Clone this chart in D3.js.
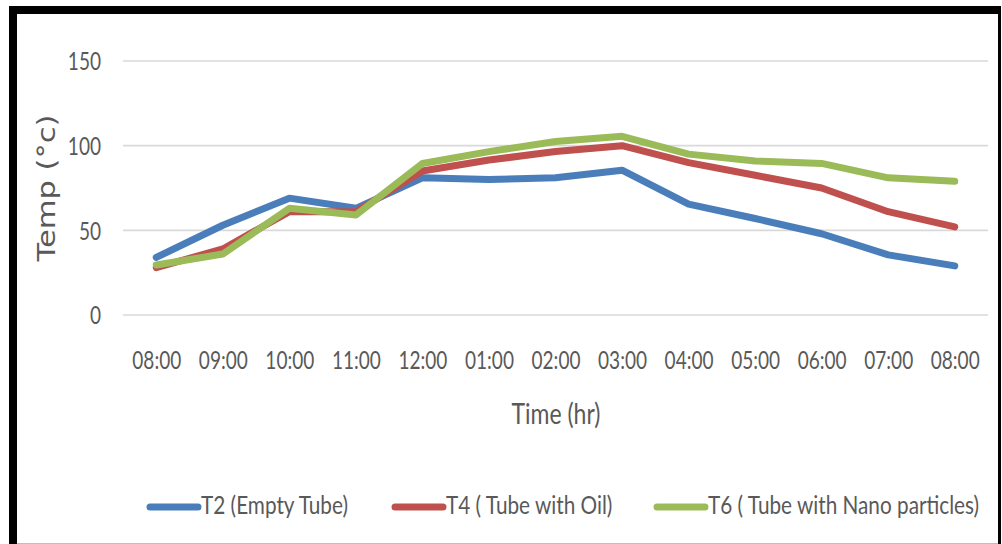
<!DOCTYPE html>
<html>
<head>
<meta charset="utf-8">
<script src="https://cdn.jsdelivr.net/npm/d3@7"></script>
<style>
  html, body { margin: 0; padding: 0; background: #ffffff; }
  svg { display: block; }
</style>
</head>
<body>
<svg id="chart" width="1002" height="544"></svg>
<script>
// Hourly readings, 08:00 in the morning through 08:00 in the evening
const hours = ["08:00", "09:00", "10:00", "11:00", "12:00", "01:00", "02:00",
               "03:00", "04:00", "05:00", "06:00", "07:00", "08:00"];
const t2Empty = [34, 53, 69, 63, 81, 80, 81, 85.5, 65.5, 57, 48, 35.5, 29];
const t4Oil   = [28, 39, 61, 61, 85, 91.5, 96.5, 100, 90, 82.5, 75, 61, 52];
const t6Nano  = [29.5, 36, 63, 59, 89.5, 96.5, 102.5, 105.5, 95, 91, 89.5, 81, 79];
const yTicks  = [0, 50, 100, 150];

const seriesNames  = ["T2 (Empty Tube)", "T4 ( Tube with Oil)", "T6 ( Tube with Nano particles)"];
const seriesColors = ["#4a7ebb", "#c0504d", "#9bbb59"];
const seriesValues = [t2Empty, t4Oil, t6Nano];

const svg = d3.select("#chart");
const textColor = "#595959";
const labelFont = "Lato, 'Open Sans', sans-serif";

// narrow the label font horizontally so that a sample string has the given width
function narrowFactor(sample, size, width) {
  const probe = svg.append("text")
    .style("font-family", labelFont).style("font-size", size + "px").text(sample);
  const w = probe.node().getComputedTextLength();
  probe.remove();
  return width / w;
}
const tickSize = 25, legendSize = 25, titleSize = 28;
const tickK   = narrowFactor("08:00", tickSize, 49);
const legendK = narrowFactor("T2 (Empty Tube)", legendSize, 147);
const titleK  = narrowFactor("Time (hr)", titleSize, 89);

// frame around the chart
svg.append("rect").attr("x", 9).attr("y", 6).attr("width", 992).attr("height", 8).attr("fill", "#000");
svg.append("rect").attr("x", 9).attr("y", 6).attr("width", 8).attr("height", 538).attr("fill", "#000");
svg.append("rect").attr("x", 998).attr("y", 6).attr("width", 3).attr("height", 538).attr("fill", "#000");
svg.append("line").attr("x1", 17).attr("x2", 998).attr("y1", 543.5).attr("y2", 543.5)
   .attr("stroke", "#bfbfbf").attr("stroke-width", 1);

const plot = { left: 123, right: 988, top: 61, bottom: 315 };

const x = d3.scalePoint().domain(d3.range(hours.length)).range([plot.left, plot.right]).padding(0.5);
const y = d3.scaleLinear().domain([0, 150]).range([plot.bottom, plot.top]);

// horizontal gridlines
svg.append("g").selectAll("line").data(yTicks).join("line")
  .attr("x1", plot.left).attr("x2", plot.right)
  .attr("y1", d => y(d)).attr("y2", d => y(d))
  .attr("stroke", "#d9d9d9").attr("stroke-width", 1.6);

// y axis labels
const yAxis = svg.append("g")
  .attr("transform", `translate(${plot.left},0)`)
  .call(d3.axisLeft(y).tickValues(yTicks).tickSize(0).tickPadding(0));
yAxis.select(".domain").remove();
yAxis.selectAll("text")
  .attr("x", 0).attr("dy", "0.35em")
  .attr("transform", `translate(-22,0) scale(${tickK},1)`)
  .attr("fill", textColor)
  .style("font-family", labelFont).style("font-size", tickSize + "px");

// x axis labels
const xAxis = svg.append("g")
  .attr("transform", `translate(0,${plot.bottom})`)
  .call(d3.axisBottom(x).tickFormat(i => hours[i]).tickSize(0).tickPadding(0));
xAxis.select(".domain").remove();
xAxis.selectAll("text")
  .attr("y", 0).attr("dy", "0.35em")
  .attr("transform", `translate(0,45) scale(${tickK},1)`)
  .attr("fill", textColor)
  .style("font-family", labelFont).style("font-size", tickSize + "px");

// axis titles
svg.append("text")
  .attr("transform", `translate(556,414) scale(${titleK},1)`)
  .attr("text-anchor", "middle").attr("dy", "0.35em")
  .attr("fill", textColor)
  .style("font-family", labelFont).style("font-size", titleSize + "px")
  .text("Time (hr)");

svg.append("text")
  .attr("transform", "translate(47,188) rotate(-90)")
  .attr("text-anchor", "middle").attr("dy", "0.35em")
  .attr("fill", textColor)
  .attr("textLength", 147).attr("lengthAdjust", "spacingAndGlyphs")
  .style("font-family", "'DejaVu Sans', sans-serif").style("font-size", "24px")
  .text("Temp (°c)");

// series lines
const line = d3.line().x((d, i) => x(i)).y(d => y(d));
svg.append("g").selectAll("path").data(seriesValues).join("path")
  .attr("d", line)
  .attr("fill", "none")
  .attr("stroke", (d, i) => seriesColors[i])
  .attr("stroke-width", 7)
  .attr("stroke-linejoin", "round")
  .attr("stroke-linecap", "round");

// legend
const legendX = [150, 395, 657];
const legendY = 507;
const legend = svg.append("g").selectAll("g").data(seriesNames).join("g")
  .attr("transform", (d, i) => `translate(${legendX[i]},${legendY})`);
legend.append("line")
  .attr("x1", 0).attr("x2", 48).attr("y1", 0).attr("y2", 0)
  .attr("stroke", (d, i) => seriesColors[i])
  .attr("stroke-width", 7).attr("stroke-linecap", "round");
legend.append("text")
  .attr("transform", `translate(51,-2) scale(${legendK},1)`)
  .attr("dy", "0.35em")
  .attr("fill", textColor)
  .style("font-family", labelFont).style("font-size", legendSize + "px")
  .text(d => d);
</script>
</body>
</html>
